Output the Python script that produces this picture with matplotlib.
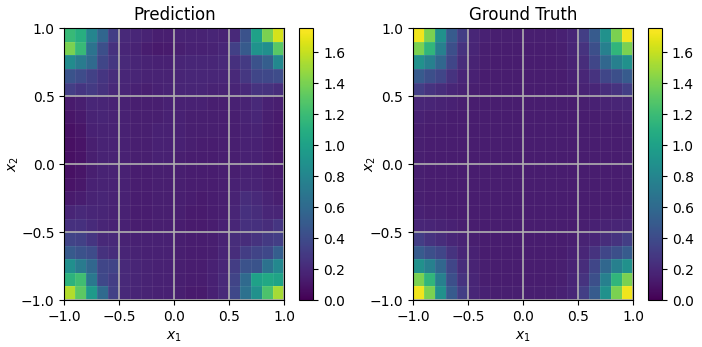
# Heatmaps: model prediction vs ground truth on a 20x20 grid over [-1, 1]^2
import numpy as np
import matplotlib.pyplot as plt

# Grid edges (20 cells per axis)
x_edges = np.linspace(-1, 1, 21)
y_edges = np.linspace(1, -1, 21)  # rows listed from top (x2 = 1) to bottom

# Prediction values, row 0 = top (x2 near 1.0), col 0 = left (x1 near -1.0)
pred = np.array([
    [1.18, 1.10, 0.80, 0.57, 0.32, 0.20, 0.19, 0.17, 0.15, 0.15, 0.17, 0.17, 0.17, 0.18, 0.17, 0.20, 0.44, 1.00, 1.40, 1.64],
    [1.40, 1.18, 0.67, 0.42, 0.25, 0.19, 0.17, 0.14, 0.12, 0.13, 0.15, 0.16, 0.16, 0.17, 0.19, 0.33, 0.49, 0.90, 0.87, 1.30],
    [0.84, 0.72, 0.60, 0.37, 0.28, 0.20, 0.18, 0.17, 0.16, 0.16, 0.18, 0.19, 0.19, 0.19, 0.20, 0.24, 0.30, 0.44, 0.52, 0.82],
    [0.45, 0.40, 0.34, 0.27, 0.22, 0.19, 0.18, 0.17, 0.17, 0.17, 0.18, 0.19, 0.19, 0.19, 0.19, 0.20, 0.28, 0.37, 0.38, 0.40],
    [0.32, 0.27, 0.30, 0.25, 0.20, 0.18, 0.16, 0.15, 0.16, 0.17, 0.18, 0.18, 0.18, 0.17, 0.17, 0.18, 0.20, 0.26, 0.25, 0.22],
    [0.13, 0.15, 0.19, 0.18, 0.17, 0.16, 0.15, 0.15, 0.15, 0.16, 0.16, 0.16, 0.16, 0.15, 0.15, 0.16, 0.17, 0.20, 0.16, 0.15],
    [0.10, 0.12, 0.17, 0.18, 0.17, 0.16, 0.15, 0.15, 0.15, 0.16, 0.16, 0.15, 0.15, 0.15, 0.15, 0.15, 0.17, 0.19, 0.15, 0.13],
    [0.08, 0.10, 0.16, 0.17, 0.17, 0.16, 0.15, 0.15, 0.16, 0.16, 0.16, 0.15, 0.15, 0.15, 0.15, 0.15, 0.16, 0.17, 0.14, 0.12],
    [0.07, 0.09, 0.15, 0.17, 0.17, 0.16, 0.15, 0.15, 0.16, 0.16, 0.16, 0.15, 0.14, 0.14, 0.15, 0.15, 0.16, 0.16, 0.14, 0.12],
    [0.07, 0.09, 0.15, 0.17, 0.17, 0.16, 0.15, 0.15, 0.16, 0.16, 0.15, 0.14, 0.14, 0.14, 0.15, 0.15, 0.16, 0.16, 0.14, 0.12],
    [0.08, 0.10, 0.15, 0.17, 0.17, 0.16, 0.14, 0.14, 0.15, 0.15, 0.15, 0.14, 0.14, 0.14, 0.15, 0.15, 0.16, 0.16, 0.14, 0.13],
    [0.09, 0.11, 0.16, 0.17, 0.17, 0.16, 0.14, 0.14, 0.15, 0.15, 0.15, 0.14, 0.14, 0.14, 0.15, 0.16, 0.17, 0.17, 0.15, 0.14],
    [0.12, 0.14, 0.17, 0.18, 0.17, 0.16, 0.14, 0.14, 0.15, 0.15, 0.15, 0.14, 0.13, 0.14, 0.15, 0.17, 0.22, 0.20, 0.17, 0.15],
    [0.18, 0.20, 0.19, 0.18, 0.17, 0.16, 0.14, 0.14, 0.15, 0.15, 0.15, 0.13, 0.13, 0.14, 0.15, 0.18, 0.24, 0.22, 0.19, 0.18],
    [0.24, 0.24, 0.21, 0.18, 0.17, 0.16, 0.14, 0.14, 0.15, 0.15, 0.14, 0.13, 0.13, 0.14, 0.16, 0.19, 0.24, 0.24, 0.22, 0.27],
    [0.35, 0.34, 0.27, 0.20, 0.20, 0.17, 0.16, 0.16, 0.16, 0.16, 0.15, 0.14, 0.14, 0.15, 0.17, 0.22, 0.22, 0.26, 0.30, 0.32],
    [0.49, 0.44, 0.40, 0.25, 0.22, 0.18, 0.17, 0.16, 0.16, 0.16, 0.15, 0.14, 0.14, 0.15, 0.18, 0.22, 0.31, 0.35, 0.38, 0.52],
    [0.87, 0.72, 0.58, 0.37, 0.35, 0.20, 0.18, 0.17, 0.16, 0.16, 0.15, 0.14, 0.14, 0.16, 0.19, 0.31, 0.44, 0.45, 0.66, 0.82],
    [1.13, 1.22, 0.70, 0.38, 0.32, 0.20, 0.18, 0.17, 0.16, 0.16, 0.15, 0.14, 0.14, 0.16, 0.20, 0.35, 0.60, 1.00, 1.05, 1.02],
    [1.55, 1.31, 0.95, 0.60, 0.34, 0.20, 0.18, 0.17, 0.16, 0.16, 0.15, 0.13, 0.13, 0.16, 0.20, 0.38, 0.65, 0.88, 1.26, 1.52],
])

# Ground truth values, same layout
truth = np.array([
    [1.72, 1.40, 0.88, 0.50, 0.32, 0.19, 0.16, 0.15, 0.15, 0.15, 0.15, 0.15, 0.15, 0.16, 0.19, 0.32, 0.50, 0.88, 1.40, 1.72],
    [1.40, 1.15, 0.76, 0.42, 0.26, 0.18, 0.15, 0.14, 0.14, 0.14, 0.14, 0.14, 0.14, 0.15, 0.18, 0.26, 0.42, 0.76, 1.15, 1.40],
    [0.88, 0.76, 0.58, 0.37, 0.22, 0.17, 0.15, 0.14, 0.14, 0.14, 0.14, 0.14, 0.14, 0.15, 0.17, 0.22, 0.37, 0.58, 0.76, 0.88],
    [0.50, 0.42, 0.37, 0.26, 0.19, 0.16, 0.14, 0.14, 0.14, 0.14, 0.14, 0.14, 0.14, 0.14, 0.16, 0.19, 0.26, 0.37, 0.42, 0.50],
    [0.32, 0.26, 0.22, 0.19, 0.17, 0.15, 0.14, 0.14, 0.14, 0.14, 0.14, 0.14, 0.14, 0.14, 0.15, 0.17, 0.19, 0.22, 0.26, 0.32],
    [0.19, 0.18, 0.17, 0.16, 0.15, 0.14, 0.14, 0.14, 0.14, 0.14, 0.14, 0.14, 0.14, 0.14, 0.14, 0.15, 0.16, 0.17, 0.18, 0.19],
    [0.16, 0.15, 0.15, 0.14, 0.14, 0.14, 0.14, 0.14, 0.14, 0.14, 0.14, 0.14, 0.14, 0.14, 0.14, 0.14, 0.14, 0.15, 0.15, 0.16],
    [0.15, 0.14, 0.14, 0.14, 0.14, 0.14, 0.14, 0.14, 0.14, 0.14, 0.14, 0.14, 0.14, 0.14, 0.14, 0.14, 0.14, 0.14, 0.14, 0.15],
    [0.15, 0.14, 0.14, 0.14, 0.14, 0.14, 0.14, 0.14, 0.14, 0.14, 0.14, 0.14, 0.14, 0.14, 0.14, 0.14, 0.14, 0.14, 0.14, 0.15],
    [0.15, 0.14, 0.14, 0.14, 0.14, 0.14, 0.14, 0.14, 0.14, 0.14, 0.14, 0.14, 0.14, 0.14, 0.14, 0.14, 0.14, 0.14, 0.14, 0.15],
    [0.15, 0.14, 0.14, 0.14, 0.14, 0.14, 0.14, 0.14, 0.14, 0.14, 0.14, 0.14, 0.14, 0.14, 0.14, 0.14, 0.14, 0.14, 0.14, 0.15],
    [0.15, 0.14, 0.14, 0.14, 0.14, 0.14, 0.14, 0.14, 0.14, 0.14, 0.14, 0.14, 0.14, 0.14, 0.14, 0.14, 0.14, 0.14, 0.14, 0.15],
    [0.15, 0.14, 0.14, 0.14, 0.14, 0.14, 0.14, 0.14, 0.14, 0.14, 0.14, 0.14, 0.14, 0.14, 0.14, 0.14, 0.14, 0.14, 0.14, 0.15],
    [0.16, 0.15, 0.15, 0.14, 0.14, 0.14, 0.14, 0.14, 0.14, 0.14, 0.14, 0.14, 0.14, 0.14, 0.14, 0.14, 0.14, 0.15, 0.15, 0.16],
    [0.19, 0.18, 0.17, 0.16, 0.15, 0.14, 0.14, 0.14, 0.14, 0.14, 0.14, 0.14, 0.14, 0.14, 0.14, 0.15, 0.16, 0.17, 0.18, 0.19],
    [0.32, 0.26, 0.22, 0.19, 0.17, 0.15, 0.14, 0.14, 0.14, 0.14, 0.14, 0.14, 0.14, 0.14, 0.15, 0.17, 0.19, 0.22, 0.26, 0.32],
    [0.50, 0.42, 0.37, 0.26, 0.19, 0.16, 0.14, 0.14, 0.14, 0.14, 0.14, 0.14, 0.14, 0.14, 0.16, 0.19, 0.26, 0.37, 0.42, 0.50],
    [0.88, 0.76, 0.58, 0.37, 0.22, 0.17, 0.15, 0.14, 0.14, 0.14, 0.14, 0.14, 0.14, 0.15, 0.17, 0.22, 0.37, 0.58, 0.76, 0.88],
    [1.40, 1.15, 0.76, 0.42, 0.26, 0.18, 0.15, 0.14, 0.14, 0.14, 0.14, 0.14, 0.14, 0.15, 0.18, 0.26, 0.42, 0.76, 1.15, 1.40],
    [1.72, 1.40, 0.88, 0.50, 0.32, 0.19, 0.16, 0.15, 0.15, 0.15, 0.15, 0.15, 0.15, 0.16, 0.19, 0.32, 0.50, 0.88, 1.40, 1.72],
])

titles = ['Prediction', 'Ground Truth']
ticks = [-1.0, -0.5, 0.0, 0.5, 1.0]
cbar_ticks = [0.0, 0.2, 0.4, 0.6, 0.8, 1.0, 1.2, 1.4, 1.6]
vmax = 1.755

fig = plt.figure(figsize=(7.02, 3.47), dpi=100)

# [left, bottom, width, height] for plot and colorbar of each panel
pos_ax = [[0.0916, 0.1354, 0.3134, 0.783], [0.5883, 0.1354, 0.3134, 0.783]]
pos_cb = [[0.4264, 0.1354, 0.0199, 0.783], [0.9231, 0.1354, 0.0199, 0.783]]
ylabel_x = [-0.199, -0.157]

for i, data in enumerate([pred, truth]):
    ax = fig.add_axes(pos_ax[i])
    mesh = ax.pcolormesh(x_edges, y_edges, data, cmap='viridis', vmin=0, vmax=vmax)
    ax.set_xlim(-1, 1)
    ax.set_ylim(-1, 1)
    ax.set_xticks(ticks)
    ax.set_yticks(ticks)
    # faint cell lines + light grey major grid
    ax.set_xticks(x_edges, minor=True)
    ax.set_yticks(x_edges, minor=True)
    ax.tick_params(which='minor', length=0)
    ax.grid(which='minor', color='white', alpha=0.08, linewidth=0.6)
    ax.grid(which='major', color='#b0b0b0', linewidth=1.2)
    ax.set_xlabel('$x_1$')
    ax.set_ylabel('$x_2$')
    ax.yaxis.set_label_coords(ylabel_x[i], 0.5)
    ax.set_title(titles[i])

    cax = fig.add_axes(pos_cb[i])
    cb = fig.colorbar(mesh, cax=cax)
    cb.set_ticks(cbar_ticks)

plt.savefig('out.png', dpi=100)
